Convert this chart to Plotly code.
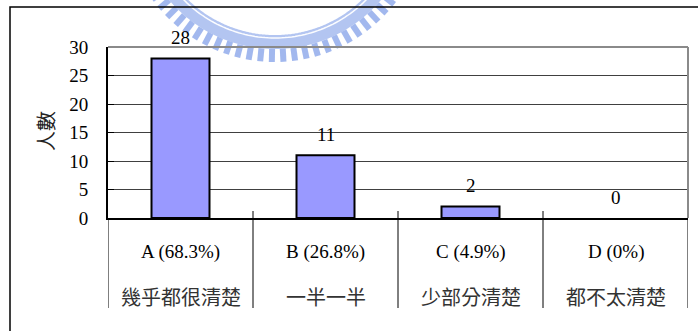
import math
import plotly.graph_objects as go

# Survey answers and head counts
categories = ["A", "B", "C", "D"]
labels_top = ["A (68.3%)", "B (26.8%)", "C (4.9%)", "D (0%)"]
labels_bottom = ["幾乎都很清楚", "一半一半", "少部分清楚", "都不太清楚"]
counts = [28, 11, 2, 0]
y_ticks = [0, 5, 10, 15, 20, 25, 30]

W, H = 698, 331
L, R, T, B = 108, 688, 47, 218  # plot area in pixels

def px(x):
    return (x - L) / (R - L)

def py(y):
    return (B - y) / (B - T)

FONT = "Liberation Serif, Noto Sans CJK TC, serif"

fig = go.Figure()
fig.add_trace(go.Bar(
    x=categories, y=counts, width=0.4,
    marker=dict(color="#9999FF",
                line=dict(color="black", width=[2 if v > 0 else 0 for v in counts])),
    hoverinfo="skip",
))

annotations = []
# value labels above bars
for c, v in zip(categories, counts):
    annotations.append(dict(x=c, y=v, xref="x", yref="y", text=str(v), showarrow=False,
                            yshift=21, yanchor="middle", font=dict(size=19, color="black")))
# two-row category labels
for c, t, b in zip(categories, labels_top, labels_bottom):
    annotations.append(dict(x=c, y=py(252), xref="x", yref="paper", text=t, showarrow=False,
                            yanchor="middle", font=dict(size=19, color="black")))
    annotations.append(dict(x=c, y=py(298), xref="x", yref="paper", text=b, showarrow=False,
                            yanchor="middle", font=dict(size=20, color="#333")))
# axis title
annotations.append(dict(x=px(47), y=py(131), xref="paper", yref="paper", text="人數", textangle=-90,
                        xanchor="center", yanchor="middle",
                        showarrow=False, font=dict(size=20, color="#222")))

shapes = []

# background emblem: toothed ring
cx, cy = 275, -90
def ring_path(r, a0=-60, a1=60, n=80):
    pts = []
    for i in range(n + 1):
        a = math.radians(a0 + (a1 - a0) * i / n)
        pts.append((px(cx + r * math.sin(a)), py(cy + r * math.cos(a))))
    return "M " + " L ".join(f"{x:.5f},{y:.5f}" for x, y in pts)

shapes.append(dict(type="path", xref="paper", yref="paper", path=ring_path(132), layer="below",
                   line=dict(color="rgba(128,158,232,0.6)", width=14)))
shapes.append(dict(type="path", xref="paper", yref="paper", path=ring_path(128), layer="below",
                   line=dict(color="rgba(255,255,255,0.95)", width=1.5)))
a = -54.0
while a <= 54.0:
    ar = math.radians(a)
    x0, y0 = cx + 139 * math.sin(ar), cy + 139 * math.cos(ar)
    x1, y1 = cx + 152 * math.sin(ar), cy + 152 * math.cos(ar)
    shapes.append(dict(type="line", xref="paper", yref="paper", x0=px(x0), y0=py(y0),
                       x1=px(x1), y1=py(y1), layer="below",
                       line=dict(color="rgba(118,150,230,0.68)", width=6)))
    a += 4.4

# outer chart frame
shapes.append(dict(type="rect", xref="paper", yref="paper", x0=px(10), y0=py(7), x1=px(720), y1=py(360),
                   line=dict(color="black", width=1.5), layer="above"))
# top and right borders of the plot area
shapes.append(dict(type="line", xref="paper", yref="paper", x0=0, y0=1, x1=1, y1=1,
                   line=dict(color="#8a8a8a", width=2)))
shapes.append(dict(type="line", xref="paper", yref="paper", x0=1, y0=0, x1=1, y1=1,
                   line=dict(color="#8a8a8a", width=2)))
# category separators
for i, xb in enumerate([-0.5, 0.5, 1.5, 2.5, 3.5]):
    top = py(218) if i in (0, 4) else py(211)
    shapes.append(dict(type="line", xref="x", yref="paper", x0=xb, x1=xb, y0=top, y1=py(308),
                       line=dict(color="black", width=1)))

fig.update_layout(
    width=W, height=H,
    margin=dict(l=L, r=W - R, t=T, b=H - B, pad=0),
    paper_bgcolor="white", plot_bgcolor="white",
    font=dict(family=FONT, size=19, color="black"),
    showlegend=False,
    bargap=0.6,
    xaxis=dict(range=[-0.5, 3.5], showticklabels=False, showgrid=False, zeroline=False,
               showline=True, linecolor="black", linewidth=2, ticks=""),
    yaxis=dict(range=[0, 30], tickvals=y_ticks, showgrid=True, gridcolor="#404040", gridwidth=1,
               zeroline=False, showline=True, linecolor="black", linewidth=2,
               ticks="inside", ticklen=6, tickcolor="black", tickwidth=1,
               ticklabelstandoff=14, tickfont=dict(size=19)),
    annotations=annotations,
    shapes=shapes,
)

fig.write_html("out.html")
